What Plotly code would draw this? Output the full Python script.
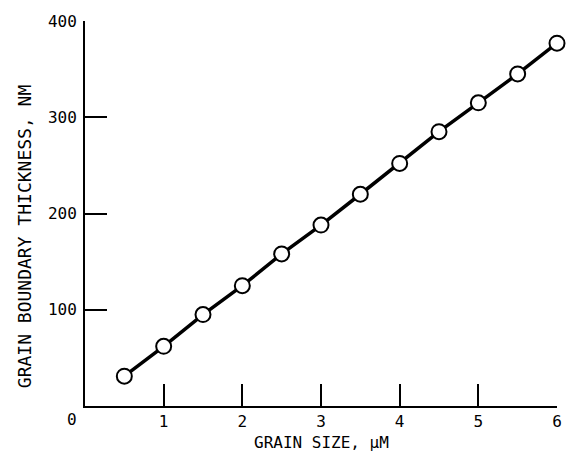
import plotly.graph_objects as go

grain_size = [0.5, 1.0, 1.5, 2.0, 2.5, 3.0, 3.5, 4.0, 4.5, 5.0, 5.5, 6.0]
thickness = [31, 62, 95, 125, 158, 188, 220, 252, 285, 315, 345, 377]

x_ticks = [1, 2, 3, 4, 5, 6]
y_ticks = [100, 200, 300, 400]

FONT = "DejaVu Sans Mono"

fig = go.Figure()
fig.add_trace(go.Scatter(
    x=grain_size, y=thickness, mode="lines+markers",
    line=dict(color="black", width=3.5),
    marker=dict(symbol="circle", size=15, color="white",
                line=dict(color="black", width=2)),
    showlegend=False, cliponaxis=False,
))

fig.update_layout(
    width=574, height=462,
    margin=dict(l=85, r=14, t=17, b=56),
    paper_bgcolor="white", plot_bgcolor="white",
    font=dict(family=FONT, size=16, color="black"),
    xaxis=dict(range=[0, 6], tickvals=x_ticks, ticktext=[str(v) for v in x_ticks],
               ticks="inside", ticklen=22, tickwidth=2, tickcolor="black",
               showline=True, linecolor="black", linewidth=2,
               showgrid=False, zeroline=False, ticklabelstandoff=0),
    yaxis=dict(range=[0, 400], tickvals=y_ticks, ticktext=[str(v) for v in y_ticks],
               ticks="inside", ticklen=22, tickwidth=2, tickcolor="black",
               showline=True, linecolor="black", linewidth=2,
               showgrid=False, zeroline=False, ticklabelstandoff=3),
    annotations=[
        dict(text="0", x=0, y=0, xref="x", yref="y", xanchor="center", yanchor="top",
             xshift=-13, yshift=-2, showarrow=False, font=dict(family=FONT, size=16)),
        dict(text="GRAIN SIZE, µM", x=0.5, y=-0.065, xref="paper", yref="paper",
             xanchor="center", yanchor="top", showarrow=False,
             font=dict(family=FONT, size=16)),
        dict(text="GRAIN BOUNDARY THICKNESS, NM", x=-0.128, y=0.44, xref="paper", yref="paper",
             xanchor="center", yanchor="middle", textangle=-90, showarrow=False,
             font=dict(family=FONT, size=18)),
    ],
)

fig.write_html("out.html")
